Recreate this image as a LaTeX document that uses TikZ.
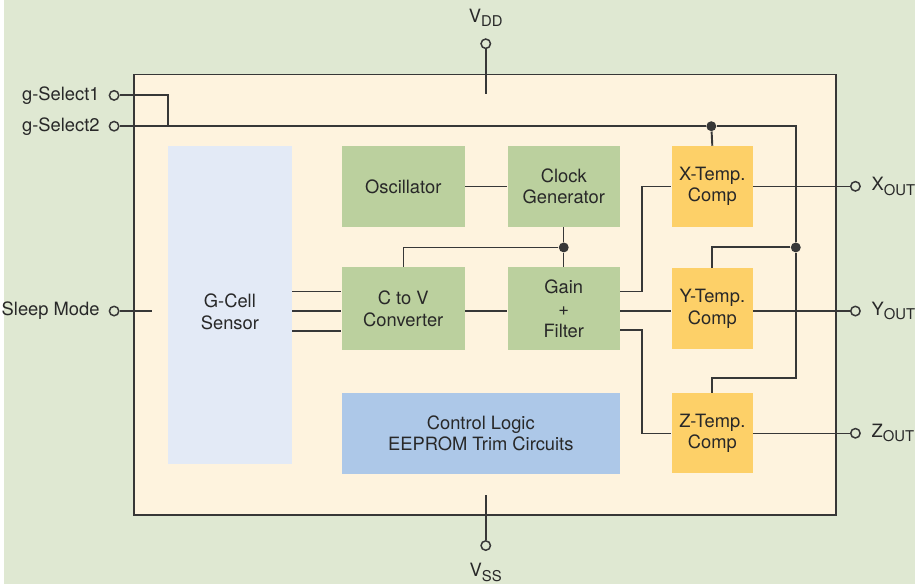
\documentclass[tikz,border=0pt]{standalone}
\usepackage{fontspec}
\setmainfont{TeX Gyre Heros}
\usetikzlibrary{positioning}
\definecolor{bggreen}{RGB}{223,232,210}
\definecolor{chipbg}{RGB}{254,243,222}
\definecolor{sensorbl}{RGB}{227,234,246}
\definecolor{blockgr}{RGB}{187,208,158}
\definecolor{tempor}{RGB}{253,208,104}
\definecolor{logicbl}{RGB}{173,200,232}
\definecolor{wire}{RGB}{55,55,55}
\definecolor{ink}{RGB}{40,40,40}
\newcommand\pinsub[2]{#1\raisebox{-0.45ex}{\fontsize{8.5}{9}\selectfont #2}}

\begin{document}
\begin{tikzpicture}[x=0.02cm,y=-0.02cm,
    font=\fontsize{10.5}{12.5}\selectfont,
    blk/.style={rectangle,fill=blockgr,text=ink,align=center,inner sep=2pt},
    tcomp/.style={blk,fill=tempor,minimum width=1.64cm,minimum height=1.62cm},
    pin/.style={circle,draw=wire,line width=0.85pt,fill=bggreen,
                minimum size=0.19cm,inner sep=0pt},
    lbl/.style={text=ink,inner sep=1pt},
    wr/.style={draw=wire,line width=0.75pt},
    bus/.style={draw=wire,line width=1.1pt},
    dot/.style={circle,fill=wire,minimum size=0.2cm,inner sep=0pt},
  ]

  \fill[bggreen] (0,0) rectangle (917,588);
  \draw[line width=1.1pt,draw=wire,fill=chipbg] (131,75) rectangle (837,518);

  \node[blk,fill=sensorbl,minimum width=2.5cm,minimum height=6.4cm,
        label={[lbl,align=center,yshift=-0.13cm]center:G-Cell\\Sensor}] (gcell) at (227.5,307) {};
  \node[blk,minimum width=2.48cm,minimum height=1.62cm] (osc)  at (402,187.5)   {Oscillator};
  \node[blk,minimum width=2.26cm,minimum height=1.62cm] (clk)  at (563.5,187.5) {Clock\\Generator};
  \node[blk,minimum width=2.48cm,minimum height=1.66cm] (c2v)  at (402,310.5)   {C to V\\Converter};
  \node[blk,minimum width=2.26cm,minimum height=1.66cm] (gain) at (563.5,310.5) {Gain\\+\\Filter};
  \node[tcomp] (xtc) at (713,187.5) {X-Temp.\\Comp};
  \node[tcomp] (ytc) at (713,310.5) {Y-Temp.\\Comp};
  \node[tcomp] (ztc) at (713,436)   {Z-Temp.\\Comp};
  \node[blk,fill=logicbl,minimum width=5.6cm,minimum height=1.64cm] (ctl) at (480,436)
      {Control Logic\\EEPROM Trim Circuits};

  % pins
  \node[pin] (vdd) at (485,44)  {};
  \node[pin] (vss) at (485,549) {};
  \node[pin] (gs1) at (111,96)  {};
  \node[pin] (gs2) at (111,127) {};
  \node[pin] (slp) at (111,313) {};
  \node[pin] (xo)  at (857,187.5) {};
  \node[pin] (yo)  at (857,313) {};
  \node[pin] (zo)  at (857,436) {};

  \node[lbl] (vddl) at (485,18)  {\pinsub{V}{DD}};
  \node[lbl] (vssl) at (485,576) {\pinsub{V}{SS}};
  \node[lbl,left=4pt of gs1] (gs1l) {g-Select1};
  \node[lbl,left=4pt of gs2] (gs2l) {g-Select2};
  \node[lbl,left=4pt of slp] (slpl) {Sleep Mode};
  \node[lbl,right=5pt of xo] (xol) {\pinsub{X}{OUT}};
  \node[lbl,right=5pt of yo] (yol) {\pinsub{Y}{OUT}};
  \node[lbl,right=5pt of zo] (zol) {\pinsub{Z}{OUT}};

  \coordinate (vddin) at (485,95);
  \coordinate (vssin) at (485,498);
  \coordinate (slpin) at (149,313);
  \coordinate (tap)   at (165,127);

  \node[dot] (j1) at (712,127)   {};
  \node[dot] (j2) at (797,249)   {};
  \node[dot] (j3) at (563.5,249) {};

  % supply and select lines
  \draw[bus] (vdd) -- (vddin);
  \draw[bus] (vss) -- (vssin);
  \draw[wr] (slp) -- (slpin);
  \draw[bus] (gs1) -| (tap);
  \draw[bus] (gs2) -- (j1) -| (j2);
  \draw[bus] (j2) -- ++(0,131) -| (ztc.north);
  \draw[bus] (j1) -- (xtc.north);
  \draw[bus] (j2) -| (ytc.north);

  % signal path
  \foreach \y in {293,313,333}
    \draw[wr] (gcell.east |- 0,\y) -- (c2v.west |- 0,\y);
  \draw[wr] (osc) -- (clk);
  \draw[wr] (c2v.east |- 0,313) -- (gain.west |- 0,313);
  \draw[wr] (clk) -- (j3) -- (gain);
  \draw[wr] (j3) -| (c2v.north);
  \draw[wr] (gain.east |- 0,293) -- ++(22,0) |- (xtc.west);
  \draw[wr] (gain.east |- 0,313) -- (ytc.west |- 0,313);
  \draw[wr] (gain.east |- 0,332) -- ++(22,0) |- (ztc.west);

  % outputs
  \draw[wr] (xtc.east) -- (xo);
  \draw[wr] (ytc.east |- yo) -- (yo);
  \draw[wr] (ztc.east) -- (zo);

\end{tikzpicture}
\end{document}
